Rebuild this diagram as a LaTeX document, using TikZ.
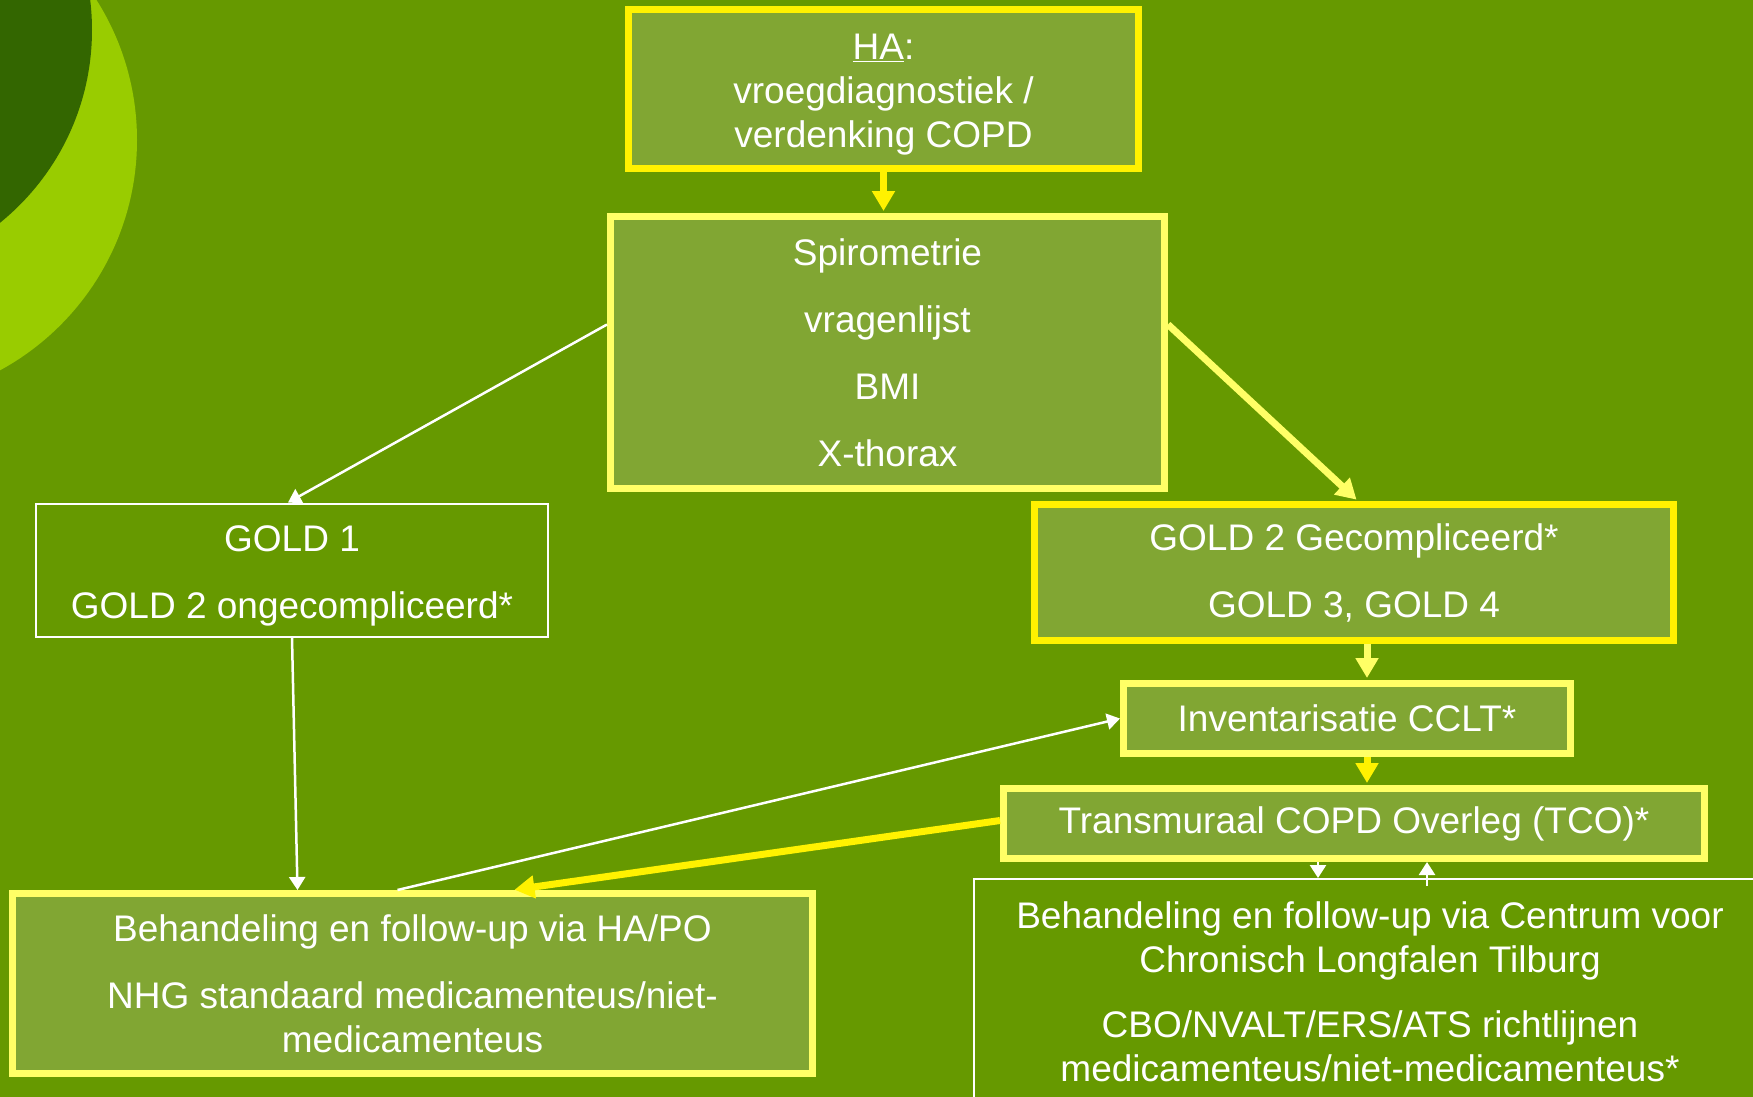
\documentclass[tikz,border=0pt]{standalone}
\usepackage{fontspec}
\setmainfont{Liberation Sans}
\usepackage{tikz}
\usetikzlibrary{arrows.meta}
\definecolor{bg}{RGB}{102,153,0}
\definecolor{leaf}{RGB}{153,204,0}
\definecolor{deep}{RGB}{51,102,0}
\definecolor{boxgreen}{RGB}{129,166,51}
\definecolor{paleyellow}{RGB}{255,255,102}
\tikzstyle{box} = [draw=paleyellow, line width=7pt, fill=boxgreen, text=white, align=center, inner sep=0pt, font=\fontsize{37}{44}\selectfont]
\tikzstyle{plain} = [draw=white, line width=2pt, text=white, align=center, inner sep=0pt, font=\fontsize{37}{44}\selectfont]
\tikzstyle{yarrow} = [draw=yellow, line width=7pt, shorten >=2pt, -{Triangle[length=20pt,width=22pt]}]
\tikzstyle{warrow} = [draw=white, line width=2.5pt, -{Triangle[length=13pt,width=16pt]}]

\begin{document}
\begin{tikzpicture}[x=1pt,y=-1pt]
  \useasboundingbox (0,0) rectangle (1753,1096);
  \fill[bg] (-10,-10) rectangle (1763,1106);
  \fill[leaf] (-125,140) circle (262);
  \fill[deep] (-156,30) circle (248);
  % boxes
  \node[box, draw=yellow, minimum width=510pt, minimum height=159pt] (ha) at (883.5,89) {\rule{0pt}{37pt}\underline{HA}:\\vroegdiagnostiek /\\verdenking COPD};
  \node[box, minimum width=554pt, minimum height=272pt] (spiro) at (887.5,352.5) {Spirometrie\\[23pt]vragenlijst\\[23pt]BMI\\[23pt]X-thorax};
  \node[plain, minimum width=512pt, minimum height=133pt] (gold1) at (292,570) {\rule{0pt}{37pt}GOLD 1\\[23pt]GOLD 2 ongecompliceerd*};
  \node[box, draw=yellow, minimum width=639pt, minimum height=136pt] (gold2) at (1354,572.5) {GOLD 2 Gecompliceerd*\\[23pt]GOLD 3, GOLD 4};
  \node[box, minimum width=447pt, minimum height=70pt] (inv) at (1347,718.5) {Inventarisatie CCLT*};
  \node[box, minimum width=701pt, minimum height=70pt] (tco) at (1354,823.5) {Transmuraal COPD Overleg (TCO)*};
  \node[box, minimum width=800pt, minimum height=180pt] (beh) at (412.5,983.5) {Behandeling en follow-up via HA/PO\\[23pt]NHG standaard medicamenteus/niet-\\medicamenteus};
  \node[plain, minimum width=792pt, minimum height=225pt] (cclt) at (1370,991.5) {Behandeling en follow-up via Centrum voor\\Chronisch Longfalen Tilburg\\[21pt]CBO/NVALT/ERS/ATS richtlijnen\\medicamenteus/niet-medicamenteus*};
  \coordinate (k) at ([xshift=20pt]inv.north);
  \coordinate (dn) at ([xshift=-52pt]cclt.north);
  \coordinate (up) at ([xshift=57pt]cclt.north);
  % connectors
  \draw[yarrow] (ha.south) -- (ha.south |- spiro.north);
  \draw[warrow] ([yshift=28pt]spiro.west) -- ([xshift=-4pt]gold1.north);
  \draw[yarrow, draw=paleyellow] ([yshift=28pt]spiro.east) -- ([xshift=4pt]gold2.north);
  \draw[yarrow, draw=paleyellow] (k |- gold2.south) -- (k);
  \draw[yarrow] (k |- inv.south) -- (k |- tco.north);
  \draw[warrow] (gold1.south) -- ([xshift=-115pt]beh.north);
  \draw[warrow] ([xshift=-15pt]beh.north) -- (inv.west);
  \draw[yarrow] ([yshift=3pt]tco.west) -- ([xshift=100pt]beh.north);
  \draw[warrow] (dn |- tco.south) -- (dn);
  \draw[warrow] ([yshift=-8pt]up) -- (up |- tco.south);
\end{tikzpicture}
\end{document}
